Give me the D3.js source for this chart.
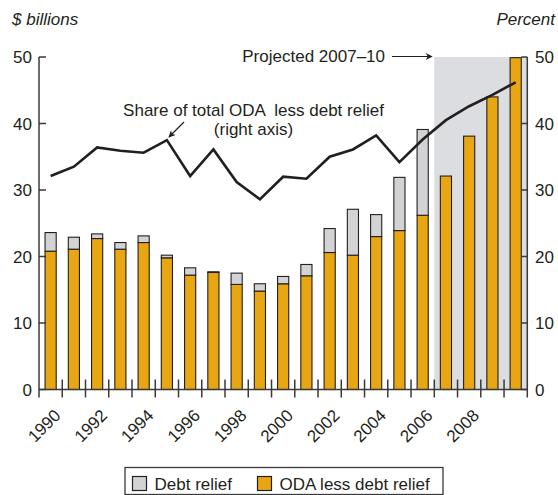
<!DOCTYPE html>
<html>
<head>
<meta charset="utf-8">
<script src="https://cdn.jsdelivr.net/npm/d3@7"></script>
<style>
  html, body { margin: 0; padding: 0; background: #fff; }
  svg { display: block; font-family: "Liberation Sans", Arial, Helvetica, sans-serif; }
  text { fill: #231f20; }
</style>
</head>
<body>
<svg id="chart" width="558" height="495"></svg>
<script>
// ---- data ----
const years = [1990,1991,1992,1993,1994,1995,1996,1997,1998,1999,2000,2001,2002,2003,2004,2005,2006,2007,2008,2009,2010];
const odaLessDebt = [20.8,21.1,22.7,21.1,22.1,19.8,17.2,17.6,15.8,14.8,15.9,17.1,20.6,20.2,23.0,23.9,26.2,32.1,38.1,44.0,49.9];
const debtRelief  = [2.8,1.8,0.7,1.0,1.0,0.4,1.1,0.1,1.7,1.1,1.1,1.7,3.6,6.9,3.3,8.0,12.9,0,0,0,0];
const sharePct    = [32.1,33.5,36.4,35.9,35.6,37.5,32.1,36.1,31.2,28.6,32.0,31.7,35.0,36.1,38.2,34.2,37.6,40.5,42.6,44.3,46.2];
const yearLabels  = [1990,1992,1994,1996,1998,2000,2002,2004,2006,2008];
const yTicks      = [0,10,20,30,40,50];
const projectedYears = [2007,2010];
const legendItems = ["Debt relief","ODA less debt relief"];

// ---- layout ----
const svg = d3.select("#chart");
const X0 = 39, X1 = 527.3, Y0 = 389.5, Y1 = 57;
const C = { orange: "#e8a612", gray: "#d2d3d5", shade: "#dcdde0", ink: "#231f20", axis: "#3a3a3a" };

const x = d3.scaleBand().domain(years).range([X0, X1]).paddingInner(0.52).paddingOuter(0.26);
const y = d3.scaleLinear().domain([0, 50]).range([Y0, Y1]);
const step = x.step();
const bandStart = yr => X0 + years.indexOf(yr) * step;

// projected shading
svg.append("rect")
  .attr("x", bandStart(projectedYears[0]))
  .attr("y", y(50))
  .attr("width", X1 - bandStart(projectedYears[0]))
  .attr("height", y(0) - y(50))
  .attr("fill", C.shade);

// bars
const bars = svg.append("g");
years.forEach((yr, i) => {
  const o = odaLessDebt[i], d = debtRelief[i];
  bars.append("rect")
    .attr("x", x(yr)).attr("width", x.bandwidth())
    .attr("y", y(o)).attr("height", y(0) - y(o))
    .attr("fill", C.orange).attr("stroke", C.ink).attr("stroke-width", 1.1);
  if (d > 0) {
    bars.append("rect")
      .attr("x", x(yr)).attr("width", x.bandwidth())
      .attr("y", y(o + d)).attr("height", y(o) - y(o + d))
      .attr("fill", C.gray).attr("stroke", C.ink).attr("stroke-width", 1.1);
  }
});

// axes
const ax = svg.append("g").attr("stroke", C.axis).attr("stroke-width", 1.5);
ax.append("line").attr("x1", X0).attr("x2", X0).attr("y1", y(50)).attr("y2", Y0 + 8);
ax.append("line").attr("x1", X1).attr("x2", X1).attr("y1", y(50)).attr("y2", Y0 + 8);
ax.append("line").attr("x1", X0).attr("x2", X1).attr("y1", Y0).attr("y2", Y0);
yTicks.forEach(t => {
  ax.append("line").attr("x1", X0).attr("x2", X0 + 7).attr("y1", y(t)).attr("y2", y(t));
  ax.append("line").attr("x1", X1 - 6).attr("x2", X1).attr("y1", y(t)).attr("y2", y(t));
});
for (let i = 1; i < years.length; i++) {
  const bx = X0 + i * step;
  ax.append("line").attr("x1", bx).attr("x2", bx).attr("y1", Y0 - 10).attr("y2", Y0 + 8);
}

// tick labels
const fs = 17;
yTicks.forEach(t => {
  svg.append("text").attr("x", 32).attr("y", y(t)).attr("dy", "0.36em")
    .attr("text-anchor", "end").attr("font-size", fs).text(t);
  svg.append("text").attr("x", 535).attr("y", y(t)).attr("dy", "0.36em")
    .attr("text-anchor", "start").attr("font-size", fs).text(t);
});
yearLabels.forEach(yr => {
  const cx = x(yr) + x.bandwidth() / 2;
  svg.append("text")
    .attr("transform", `translate(${cx + 11},${Y0 + 27}) rotate(-45)`)
    .attr("text-anchor", "end").attr("font-size", 17).text(yr);
});

// axis titles
svg.append("text").attr("x", 12).attr("y", 25).attr("font-size", fs).attr("font-style", "italic").text("$ billions");
svg.append("text").attr("x", 555).attr("y", 25).attr("text-anchor", "end").attr("font-size", fs).attr("font-style", "italic").text("Percent");

// line
const line = d3.line().x((d, i) => x(years[i]) + x.bandwidth() / 2).y(d => y(d));
svg.append("path").datum(sharePct).attr("d", line)
  .attr("fill", "none").attr("stroke", C.ink).attr("stroke-width", 2.6).attr("stroke-linejoin", "miter");

// arrow marker
const defs = svg.append("defs");
defs.append("marker").attr("id", "ah").attr("viewBox", "0 0 10 10").attr("refX", 9).attr("refY", 5)
  .attr("markerWidth", 9).attr("markerHeight", 7).attr("markerUnits", "userSpaceOnUse").attr("orient", "auto")
  .append("path").attr("d", "M0,0 L10,5 L0,10 L3,5 Z").attr("fill", C.ink);

// annotations
svg.append("text").attr("x", 253.5).attr("y", 116).attr("text-anchor", "middle").attr("font-size", fs)
  .style("white-space", "pre").text("Share of total ODA  less debt relief");
svg.append("text").attr("x", 253.5).attr("y", 135).attr("text-anchor", "middle").attr("font-size", fs)
  .text("(right axis)");
svg.append("line").attr("x1", 184).attr("y1", 122).attr("x2", 169).attr("y2", 137)
  .attr("stroke", C.ink).attr("stroke-width", 1.2).attr("marker-end", "url(#ah)");

svg.append("text").attr("x", 385).attr("y", 62).attr("text-anchor", "end").attr("font-size", fs)
  .text("Projected " + projectedYears[0] + "\u2013" + String(projectedYears[1]).slice(2));
svg.append("line").attr("x1", 392).attr("y1", 56.5).attr("x2", 432).attr("y2", 56.5)
  .attr("stroke", C.ink).attr("stroke-width", 1.2).attr("marker-end", "url(#ah)");

// legend
const lg = svg.append("g");
lg.append("rect").attr("x", 125).attr("y", 467.5).attr("width", 318).attr("height", 27)
  .attr("fill", "#fff").attr("stroke", C.axis).attr("stroke-width", 1.3);
const lgX = [132.5, 257.5];
const lgC = [C.gray, C.orange];
legendItems.forEach((t, i) => {
  lg.append("rect").attr("x", lgX[i]).attr("y", 476.5).attr("width", 14).attr("height", 14)
    .attr("fill", lgC[i]).attr("stroke", C.ink).attr("stroke-width", 1.2);
  lg.append("text").attr("x", lgX[i] + 22).attr("y", 490).attr("font-size", fs).text(t);
});
</script>
</body>
</html>
